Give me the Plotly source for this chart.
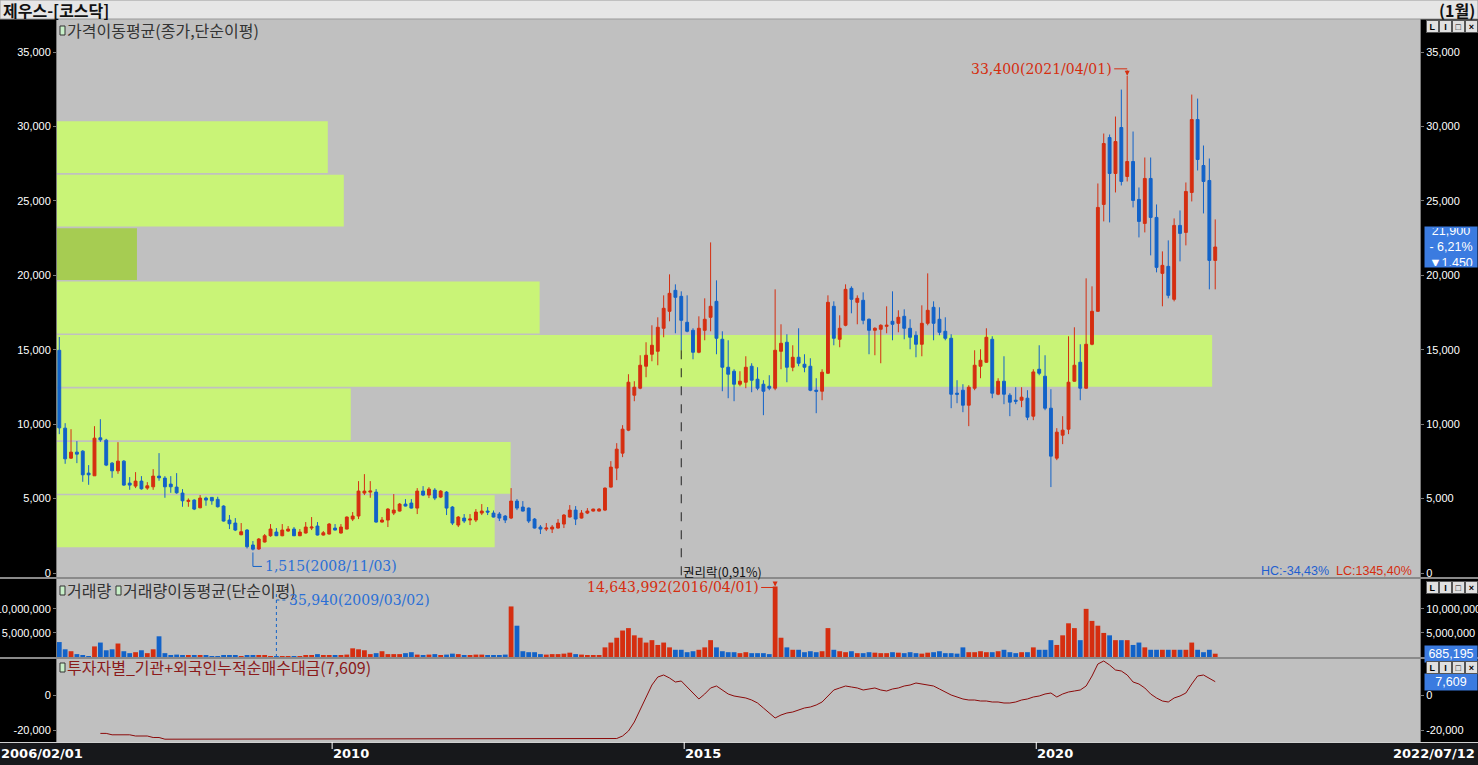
import plotly.graph_objects as go
import pandas as pd

# ---------------- data ----------------
months = [d.strftime('%Y/%m') for d in pd.date_range('2006-02-01', '2022-07-01', freq='MS')]

open_ = [14963,9730,7717,8119,8186,6710,6529,9080,8924,7381,6865,7515,6039,5838,6173,5704,5790,6509,6375,5972,
         5770,5368,4811,4898,4382,5033,5079,4945,4496,3556,3355,2570,2885,1879,1610,2080,2503,2751,2503,2818,
         2952,2503,2684,3019,3154,2550,2617,3019,2684,2952,3623,3825,5368,5435,5435,3422,3556,4026,4160,4630,
         4697,4361,5502,5234,5569,5100,5435,4429,3221,3690,3556,3556,4026,4160,4026,3959,3825,3690,4831,4429,
         4361,3623,3087,2952,2952,3019,3288,3758,4227,3690,4026,4160,4160,4227,5770,7046,8052,9595,11944,12414,
         13890,14695,14896,16440,17580,18989,18587,16842,16305,14829,16305,17178,18251,15701,13823,13554,12682,12816,13890,13017,
         12682,12548,12414,14896,15500,13823,14494,14024,13890,12279,12212,13420,17916,15701,16641,19124,18184,18319,17044,16305,
         16373,16574,16909,16775,17245,16440,15970,15366,16775,17849,17044,16238,15769,12078,12279,11273,12414,13890,14158,15701,
         12011,12883,11944,11608,11608,11742,10535,13688,13219,11071,7717,9260,9662,12883,14158,12414,15366,17580,24760,29256,
         26840,29927,26639,27645,25095,23485,26505,23888,20130,20600,18386,23351,22881,25565,30464,27376,26370,21000]
high = [15856,10065,9662,8857,8250,7247,9864,10333,9013,7450,8790,7582,6442,6777,6509,6106,6978,8052,6509,6509,
        6710,5636,5012,4950,5234,5120,5100,5120,4550,3892,3690,3355,2950,2147,2348,2617,3288,3019,3288,3154,
        3087,2952,3422,3758,3422,2818,3355,3288,3288,3800,4093,6173,6643,6173,5636,3758,4361,5301,4697,4965,
        4965,5703,5838,5770,5703,5569,5502,4496,3825,3959,3959,4294,4630,4429,4200,4093,3892,5703,4965,4831,
        4400,3690,3221,3355,3221,3623,3959,4563,4496,4227,4361,4320,4361,5750,7515,8723,9931,13353,12883,14628,
        15500,16641,17178,18654,20063,19392,18922,18654,16440,17245,18453,22210,19660,16238,15634,13688,13554,14561,14091,13823,
        12950,13286,19056,16708,16037,15299,16440,14695,14427,13085,13688,18654,18251,17312,19392,19258,18654,18855,17100,16507,
        16708,17916,18922,17648,17715,17044,16238,17983,20130,18251,17849,17178,16037,12950,12682,12615,14963,15030,16440,15903,
        13085,14561,12078,12481,12481,12279,13688,15299,14628,12346,9730,10535,15903,16507,15366,19795,19258,26169,29524,29457,
        30665,32476,33400,29658,25900,27914,27914,24760,21606,22344,23821,24357,26236,32141,31872,28719,27846,23754]
low = [9327,7335,7670,7380,6126,5925,6529,8810,7180,6395,6663,5858,5590,5704,5600,5590,5590,6193,5053,5388,
       5321,4449,4449,4227,4350,4516,4583,4400,3450,2952,2818,2540,1650,1515,1560,2050,2436,2480,2470,2771,
       2480,2480,2650,2885,2520,2520,2590,2860,2650,2930,3489,3623,5234,5053,3380,3390,3087,3892,4130,4470,
       4330,3959,5167,5033,4898,5033,3892,3221,3087,3355,3221,3422,3892,3892,3730,3489,3355,3623,4227,4130,
       3355,2990,2617,2818,2684,2990,3019,3730,3221,3660,3959,4130,4130,4160,5740,6240,7784,9528,11541,12347,
       13152,14225,13957,15836,16909,16104,14963,16171,14359,14762,15634,16238,14695,12212,11742,11541,12548,12414,12145,12279,
       10602,12279,12279,13688,12816,13554,13890,13487,12212,10736,11608,13380,15299,15165,16574,17446,16708,16708,14695,14628,
       14091,16104,15634,16171,15701,15030,14494,14561,16641,15634,15970,15634,11071,11407,10803,9864,12279,13085,14120,11742,
       11944,11340,10535,11340,11139,10266,10266,13286,10937,5771,7582,8656,9327,12850,11608,12380,15299,17550,23619,23552,
       25565,26035,26303,24559,22546,22881,21338,20197,17916,18453,18251,20935,22009,24961,27041,24156,19056,19056]
close = [9750,7670,8119,7985,6596,6596,9058,8945,7247,6865,7515,5905,5905,6173,5657,5858,6509,6395,5790,5790,
         5388,4851,4878,4294,5033,4898,4851,4449,3489,3308,2885,2771,1765,1600,2281,2503,2952,2503,2885,2952,
         2503,2751,3087,3087,2550,2704,3288,2885,3087,3758,3825,5502,5502,5502,3422,3556,4294,4227,4630,4496,
         4361,5502,5234,5636,5033,5502,4361,3355,3758,3489,3623,4093,4160,4093,3758,3690,3556,4831,4361,4160,
         3489,3019,2952,3019,3087,3355,3892,4227,3623,4026,4160,4294,4294,5703,7113,8320,9662,12816,12481,13957,
         14628,15299,16507,17782,18788,18520,16976,16239,14829,16440,17044,17916,15769,13823,13353,12682,12883,13823,12950,12414,
         12212,12414,14963,15433,13823,14494,14091,13823,12279,12212,13487,18184,15769,16440,19056,18386,18453,16976,16305,16440,
         16641,16641,16708,17178,16440,15836,15366,16775,17648,16775,16171,15769,12011,12011,11273,12481,13957,14292,15836,12078,
         12883,12011,11474,11541,11810,10468,13507,13420,11071,7851,9461,9595,12816,13957,12414,15366,17580,24559,28853,26840,
         28987,26303,27645,25028,23619,26505,23888,20533,20667,18654,23351,22814,25632,30464,27779,26303,21002,21900]

volume = [3.1,1.6,1.2,0.6,0.4,0.2,2.2,3.0,1.4,1.6,2.8,1.2,0.8,1.0,1.4,0.8,1.6,4.3,0.8,
          0.4,0.5,0.4,0.3,0.3,0.3,0.3,0.2,0.2,0.3,0.3,0.3,0.2,0.3,0.4,0.3,0.3,0.2,
          0.03594,
          0.2,0.2,0.2,0.2,0.3,0.4,0.6,0.3,0.3,0.3,0.4,0.5,
          1.8,1.6,1.4,0.6,0.8,1.2,0.6,0.6,0.6,0.8,1.0,0.5,0.4,0.5,0.6,0.4,0.5,
          0.7,0.6,0.4,0.4,0.5,0.5,0.4,0.4,0.4,0.5,
          10.5,6.5,
          1.2,1.0,1.0,0.6,0.5,0.6,0.6,0.7,0.9,0.6,0.5,0.4,0.4,0.4,
          2.0,3.0,4.0,5.5,6.0,4.5,4.0,3.0,3.5,2.5,3.0,2.0,
          1.5,1.5,1.0,1.2,1.5,2.0,3.5,2.0,1.2,1.0,1.0,0.8,1.0,0.8,0.8,0.8,0.6,
          14.643992,
          4.0,2.0,1.5,1.5,1.0,1.2,1.0,1.2,
          6.0,
          1.5,1.2,1.0,1.2,0.8,0.8,1.0,0.9,0.8,0.8,1.0,0.9,0.8,1.0,0.8,0.7,0.9,1.0,1.2,0.8,
          0.8,0.7,2.0,1.0,1.0,1.2,1.0,1.0,1.2,1.5,1.0,0.8,1.0,1.0,
          2.0,1.5,1.5,3.5,2.5,4.5,7.0,6.0,3.5,10.0,7.5,6.5,5.0,4.5,3.5,3.5,3.5,2.5,3.0,2.0,
          1.5,1.5,1.5,1.5,1.5,1.5,1.5,3.0,1.5,1.0,1.5,0.685195]
volume = [v * 1_000_000 for v in volume]

investor = [None]*7 + [-21926,-21926,-22726,-22726,-22726,-22726,-23411,-23411,-23411,-24268,-24268] \
    + [-25238]*77 + [-24840,-23410,-20560,-15420,-8570,-1140,5710,10280,11420,9710,
    7420,7990,4570,1140,-2280,570,4000,5140,2860,570,-570,-1140,-1710,-2860,-4570,-7420,-10280,-13130,-11420,-10280,
    -9710,-8570,-7420,-6850,-5710,-4000,-570,2860,4000,5140,4570,4000,2860,3430,4000,2860,2280,3430,4000,5140,
    5710,6850,6280,5710,5140,3430,1710,0,-1140,-2280,-2860,-2860,-3430,-3430,-4000,-4000,-4570,-4570,-4000,-2860,
    -2280,-1140,-570,570,1140,-1140,570,1710,2280,2860,5140,10850,17700,19410,17130,14280,13700,11420,7420,6280,
    4000,570,-1710,-3430,-4000,-1710,-570,1140,6280,10850,11420,9710,7609]

# volume profile (price bands)
profile_low = [1680, 5270, 8860, 12450, 16040, 19630, 23220, 26810]
profile_high = [5270, 8860, 12450, 16040, 19630, 23220, 26810, 30400]
profile_vol = [438, 454, 294, 1156, 483, 80, 287, 271]

# ---------------- style ----------------
RED = '#d52e10'
BLUE = '#1262c8'
BG = '#c0c0c0'
GREEN = '#c9f477'
GREEN_D = '#a6cc52'
W, H = 1478, 765

def py(px):  # paper y from pixel row
    return (H - px) / H

X0, X1 = 57 / W, 1420 / W
price_dom = [py(577), py(19)]
vol_dom = [py(657), py(579)]
inv_dom = [py(742), py(659)]

n = len(months)
cur_price = close[-1]
cur_band = [i for i in range(len(profile_low)) if profile_low[i] <= cur_price < profile_high[i]][0]

fig = go.Figure()

fig.add_trace(go.Bar(
    x=profile_vol,
    y=[(a + b) / 2 for a, b in zip(profile_low, profile_high)],
    width=[(b - a) - 110 for a, b in zip(profile_low, profile_high)],
    orientation='h', xaxis='x', yaxis='y',
    marker=dict(color=[GREEN_D if i == cur_band else GREEN for i in range(len(profile_vol))], line=dict(width=0)),
    hoverinfo='skip', showlegend=False))

fig.add_trace(go.Candlestick(
    x=months, open=open_, high=high, low=low, close=close,
    xaxis='x2', yaxis='y',
    increasing=dict(line=dict(color=RED, width=1), fillcolor=RED),
    decreasing=dict(line=dict(color=BLUE, width=1), fillcolor=BLUE),
    whiskerwidth=0, showlegend=False))

vcol = [RED if c >= o else BLUE for o, c in zip(open_, close)]
fig.add_trace(go.Bar(x=months, y=volume, xaxis='x2', yaxis='y2',
                     marker=dict(color=vcol, line=dict(width=0)), showlegend=False))

fig.add_trace(go.Scatter(x=months, y=investor, xaxis='x2', yaxis='y3', mode='lines',
                         line=dict(color='#8b0a0a', width=1), showlegend=False))

# invisible companions so the right-hand axes get drawn
for ya, vals in (('y4', close), ('y5', volume), ('y6', investor)):
    fig.add_trace(go.Scatter(x=months, y=vals, xaxis='x2', yaxis=ya, mode='lines',
                             line=dict(width=0), opacity=0, hoverinfo='skip', showlegend=False))

price_ticks = list(range(0, 35001, 5000))
vol_ticks = [5_000_000, 10_000_000]
inv_ticks = [-20000, 0]
fmt = lambda v: f'{v:,}'

axfont = dict(family='Liberation Sans, Arial', size=11, color='white')
common_y = dict(showgrid=False, zeroline=False, showline=True, linecolor='#7a7a7a', automargin=False,
                ticks='outside', ticklen=3, tickcolor='#7a7a7a', tickfont=axfont, fixedrange=True)

price_range = [-269, 37218]
vol_range = [0, 16.2e6]
inv_range = [-26837, 20556]

fig.update_layout(
    width=W, height=H, margin=dict(l=0, r=0, t=0, b=0, pad=0), autosize=False,
    paper_bgcolor='black', plot_bgcolor='rgba(0,0,0,0)', bargap=0.18,
    xaxis=dict(domain=[X0, X1], range=[0, max(profile_vol) / 0.8475], visible=False, anchor='y',
               fixedrange=True, automargin=False),
    xaxis2=dict(overlaying='x', type='category', range=[-0.39, 231.9], visible=False, automargin=False,
                anchor='y3', rangeslider=dict(visible=False), fixedrange=True),
    yaxis=dict(domain=price_dom, range=price_range, tickvals=price_ticks,
               ticktext=[fmt(v) for v in price_ticks], anchor='x', **common_y),
    yaxis2=dict(domain=vol_dom, range=vol_range, tickvals=vol_ticks,
                ticktext=[fmt(v) for v in vol_ticks], anchor='x2', **common_y),
    yaxis3=dict(domain=inv_dom, range=inv_range, tickvals=inv_ticks,
                ticktext=[fmt(v) for v in inv_ticks], anchor='x2', **common_y),
    yaxis4=dict(overlaying='y', side='right', range=price_range, tickvals=price_ticks,
                ticktext=[fmt(v) for v in price_ticks], anchor='free', position=X1, **common_y),
    yaxis5=dict(overlaying='y2', side='right', range=vol_range, tickvals=vol_ticks,
                ticktext=[fmt(v) for v in vol_ticks], anchor='free', position=X1, **common_y),
    yaxis6=dict(overlaying='y3', side='right', range=inv_range, tickvals=inv_ticks,
                ticktext=[fmt(v) for v in inv_ticks], anchor='free', position=X1, **common_y),
)

shapes = []
ann = []
KFONT = 'Noto Sans CJK KR, Noto Sans, sans-serif'
SERIF = 'DejaVu Serif, Liberation Serif, serif'

for dom in (price_dom, vol_dom, inv_dom):
    shapes.append(dict(type='rect', xref='paper', yref='paper', x0=X0, x1=X1, y0=dom[0], y1=dom[1],
                       fillcolor=BG, line=dict(width=0), layer='below'))

shapes.append(dict(type='rect', xref='paper', yref='paper', x0=0, x1=1, y0=py(19), y1=1,
                   fillcolor='#e6e6e6', line=dict(color='#9a9a9a', width=1), layer='below'))
ann.append(dict(xref='paper', yref='paper', x=2 / W, y=py(10), xanchor='left', yanchor='middle', align='left',
                text='<b>제우스-[코스닥]</b>', showarrow=False, borderpad=0,
                font=dict(family=KFONT, size=16, color='#111')))
ann.append(dict(xref='paper', yref='paper', x=1 - 2 / W, y=py(10), xanchor='right', yanchor='middle', align='right',
                text='<b>(1월)</b>', showarrow=False, borderpad=0, font=dict(family=KFONT, size=16, color='#111')))
shapes.append(dict(type='rect', xref='paper', yref='paper', x0=0, x1=1, y0=0, y1=py(742),
                   fillcolor='#17181b', line=dict(width=0), layer='below'))
shapes.append(dict(type='line', xref='paper', yref='paper', x0=0, x1=1, y0=py(742.5), y1=py(742.5),
                   line=dict(color='#d0d0d0', width=1)))
for yy in (578, 658):
    shapes.append(dict(type='line', xref='paper', yref='paper', x0=0, x1=1, y0=py(yy), y1=py(yy),
                       line=dict(color='#8a8a8a', width=2)))

dfont = dict(family='DejaVu Sans, Liberation Sans', size=13, color='white')
ann.append(dict(xref='paper', yref='paper', x=0, y=py(753), xanchor='left', yanchor='middle', align='left',
                text='<b>2006/02/01</b>', showarrow=False, font=dfont, borderpad=0))
ann.append(dict(xref='paper', yref='paper', x=1 - 2 / W, y=py(753), xanchor='right', yanchor='middle', align='right',
                text='<b>2022/07/12</b>', showarrow=False, font=dfont, borderpad=0))
for yr in ('2010', '2015', '2020'):
    xi = months.index(yr + '/01') - 0.5
    ann.append(dict(xref='x2', yref='paper', x=xi, y=py(753), xanchor='left', yanchor='middle', align='left',
                    text=f'<b>{yr}</b>', showarrow=False, font=dfont, borderpad=0))
    shapes.append(dict(type='line', xref='x2', yref='paper', x0=xi, x1=xi, y0=py(742), y1=py(749),
                       line=dict(color='white', width=1)))

legends = [(30, '가격이동평균(종가,단순이평)', '#333333'),
           (590, '거래량', '#333333'),
           (667, '투자자별_기관+외국인누적순매수대금(7,609)', '#8b1a1a')]
for yy, txt, col in legends:
    shapes.append(dict(type='rect', xref='paper', yref='paper', x0=60 / W, x1=65 / W, y0=py(yy + 5), y1=py(yy - 4),
                       fillcolor='#c8f0c8', line=dict(color='#333', width=1)))
    ann.append(dict(xref='paper', yref='paper', x=66 / W, y=py(yy), xanchor='left', yanchor='middle', align='left',
                    text=txt, showarrow=False, borderpad=0, font=dict(family=KFONT, size=16, color=col)))
shapes.append(dict(type='rect', xref='paper', yref='paper', x0=116 / W, x1=121 / W, y0=py(595), y1=py(586),
                   fillcolor='#c8f0c8', line=dict(color='#333', width=1)))
ann.append(dict(xref='paper', yref='paper', x=122 / W, y=py(590), xanchor='left', yanchor='middle', align='left',
                text='거래량이동평균(단순이평)', showarrow=False, borderpad=0,
                font=dict(family=KFONT, size=16, color='#333333')))

ih = max(range(n), key=lambda i: high[i])
ann.append(dict(xref='x2', yref='y', x=ih, y=high[ih], xanchor='right', yanchor='middle', align='right',
                text=f'{high[ih]:,}({months[ih]}/01)', showarrow=False, xshift=-14, yshift=7, borderpad=0,
                font=dict(family=SERIF, size=14, color=RED)))
shapes.append(dict(type='line', xref='x2', yref='y', xsizemode='pixel', ysizemode='pixel',
                   xanchor=ih, yanchor=high[ih], x0=-13, x1=0, y0=7, y1=7, line=dict(color=RED, width=1)))
ann.append(dict(xref='x2', yref='y', x=ih, y=high[ih], ax=0, ay=-7, text='', showarrow=True,
                arrowhead=2, arrowsize=1, arrowwidth=1, arrowcolor=RED, standoff=0))

il = min(range(n), key=lambda i: low[i])
shapes.append(dict(type='path', xref='x2', yref='y', xsizemode='pixel', ysizemode='pixel',
                   xanchor=il, yanchor=low[il], path='M 0,-2 L 0,-16 L 9,-16', line=dict(color=BLUE, width=1)))
ann.append(dict(xref='x2', yref='y', x=il, y=low[il], xanchor='left', yanchor='middle', align='left',
                text=f'{low[il]:,}({months[il]}/03)', showarrow=False, xshift=11, yshift=-16, borderpad=0,
                font=dict(family=SERIF, size=14, color='#2a6fd6')))

ir = months.index('2014/12')
shapes.append(dict(type='line', xref='x2', yref='y', x0=ir, x1=ir, y0=low[ir], y1=price_range[0],
                   line=dict(color='#222', width=1, dash='dash')))
ann.append(dict(xref='x2', yref='paper', x=ir, y=py(571), xanchor='left', yanchor='middle', align='left',
                text='권리락(0,91%)', showarrow=False, xshift=1, borderpad=0,
                font=dict(family=KFONT, size=12.5, color='#111')))

hc = (cur_price - high[ih]) / high[ih] * 100
ann.append(dict(xref='paper', yref='paper', x=1413 / W, y=py(571), xanchor='right', yanchor='middle', align='right',
                text=(f'<span style="color:#1f5fd0">HC:{hc:.2f}%</span>'.replace('.', ',') +
                      f'  <span style="color:{RED}">LC:1345,40%</span>'),
                showarrow=False, borderpad=0, font=dict(family='Liberation Sans, Arial', size=12.5)))

iv = max(range(n), key=lambda i: volume[i])
ann.append(dict(xref='x2', yref='y2', x=iv, y=volume[iv], xanchor='right', yanchor='middle', align='right',
                text=f'{int(volume[iv]):,}({months[iv]}/01)', showarrow=False, xshift=-15, yshift=-1, borderpad=0,
                font=dict(family=SERIF, size=14, color=RED)))
shapes.append(dict(type='line', xref='x2', yref='y2', xsizemode='pixel', ysizemode='pixel',
                   xanchor=iv, yanchor=volume[iv], x0=-14, x1=0, y0=-1, y1=-1, line=dict(color=RED, width=1)))
ann.append(dict(xref='x2', yref='y2', x=iv, y=volume[iv], ax=0, ay=-6, text='', showarrow=True,
                arrowhead=2, arrowsize=1, arrowwidth=1, arrowcolor=RED, standoff=0))
imn = min(range(n), key=lambda i: volume[i])
shapes.append(dict(type='line', xref='x2', yref='paper', x0=imn, x1=imn, y0=py(657), y1=py(591),
                   line=dict(color=BLUE, width=1, dash='dot')))
shapes.append(dict(type='line', xref='x2', yref='paper', xsizemode='pixel', xanchor=imn, x0=0, x1=10,
                   y0=py(600), y1=py(600), line=dict(color=BLUE, width=1, dash='dot')))
ann.append(dict(xref='x2', yref='paper', x=imn, y=py(600), xanchor='left', yanchor='middle', align='left',
                text=f'{int(volume[imn]):,}(2009/03/02)', showarrow=False, xshift=12, borderpad=0,
                font=dict(family=SERIF, size=14, color='#2a6fd6')))

box = dict(xref='paper', x=1424 / W, xanchor='left', showarrow=False, bgcolor='#3b7be0',
           font=dict(family='Liberation Sans, Arial', size=12.5, color='white'), align='center', width=50)
ann.append(dict(box, yref='y', y=cur_price, yanchor='middle',
                text=f'{cur_price:,}<br>- 6,21%<br>▼1,450', height=38))
ann.append(dict(box, yref='y2', y=volume[-1], yanchor='middle', text=f'{int(volume[-1]):,}', height=14))
ann.append(dict(box, yref='y3', y=investor[-1], yanchor='middle', text=f'{investor[-1]:,}', height=14))

for yy in (27, 587, 667):
    for k, g in enumerate(['L', 'I', '□', '×']):
        ann.append(dict(xref='paper', yref='paper', x=(1426 + k * 13) / W, y=py(yy), xanchor='left',
                        yanchor='middle', text=f'<b>{g}</b>', showarrow=False, bgcolor='#e0e0e0',
                        bordercolor='#555', borderwidth=1, width=9, height=9,
                        font=dict(family='Liberation Sans', size=9, color='black')))

fig.update_layout(shapes=shapes, annotations=ann)
fig.write_html('out.html', config={'displayModeBar': False, 'responsive': False},
               post_script=("document.documentElement.style.margin='0';document.body.style.margin='0';"
                            "document.documentElement.style.overflow='hidden';document.body.style.overflow='hidden';"))
